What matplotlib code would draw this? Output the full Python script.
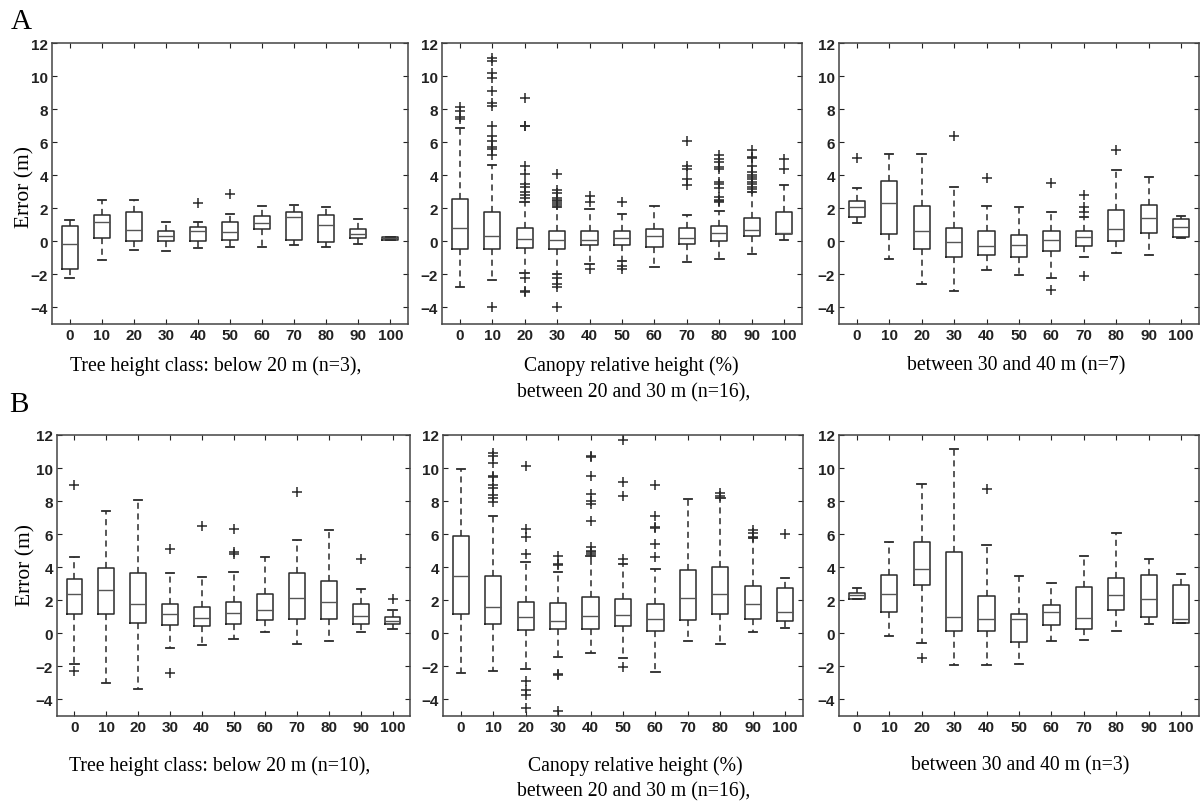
import matplotlib
matplotlib.use("Agg")
import matplotlib.pyplot as plt

# canopy relative height classes (%)
classes = [0, 10, 20, 30, 40, 50, 60, 70, 80, 90, 100]
yticks = [-4, -2, 0, 2, 4, 6, 8, 10, 12]

# box stats per class: [whisker low, q1, median, q3, whisker high]
# (A) tree height class below 20 m
a_low = [[-2.2, -1.7, -0.15, 0.9, 1.3], [-1.15, 0.2, 1.15, 1.6, 2.5], [-0.55, 0.0, 0.7, 1.75, 2.5],
         [-0.6, 0.0, 0.35, 0.65, 1.2], [-0.4, 0.05, 0.6, 0.85, 1.2], [-0.35, 0.1, 0.55, 1.15, 1.65],
         [-0.35, 0.75, 1.1, 1.55, 2.15], [-0.25, 0.1, 1.5, 1.75, 2.2], [-0.35, -0.05, 1.0, 1.6, 2.05],
         [-0.15, 0.2, 0.45, 0.75, 1.35], [0.08, 0.1, 0.18, 0.25, 0.28]]
a_low_out = [[], [], [], [], [2.3], [2.85], [], [], [], [], []]

# (A) between 20 and 30 m
a_mid = [[-2.75, -0.45, 0.8, 2.55, 6.85], [-2.35, -0.45, 0.3, 1.8, 4.6], [-1.9, -0.4, 0.15, 0.8, 2.4],
         [-1.95, -0.45, 0.1, 0.6, 2.1], [-1.4, -0.2, 0.1, 0.65, 1.95], [-1.2, -0.25, 0.2, 0.6, 1.65],
         [-1.55, -0.35, 0.3, 0.75, 2.15], [-1.25, -0.15, 0.2, 0.8, 1.6], [-1.05, 0.0, 0.5, 0.9, 1.85],
         [-0.75, 0.3, 0.7, 1.4, 3.0], [0.1, 0.45, 0.5, 1.77, 3.43]]
a_mid_out = [[7.4, 7.5, 7.9, 8.1],
             [11.1, 10.9, 10.2, 9.9, 9.1, 8.35, 8.2, 7.0, 6.4, 6.1, 5.7, 5.6, 5.2, -3.95],
             [8.7, 7.0, 6.95, 4.55, 4.1, 3.45, 3.3, 3.0, 2.8, 2.65, -2.2, -3.0, -3.05],
             [4.05, 3.1, 2.9, 2.6, 2.5, 2.45, 2.3, 2.2, -2.2, -2.55, -2.75, -3.95],
             [2.75, 2.4, -1.7], [2.4, -1.5, -1.65], [],
             [6.05, 4.55, 4.4, 3.75, 3.4],
             [5.2, 5.0, 4.8, 4.5, 4.35, 3.6, 3.45, 3.25, 2.7, 2.5, 2.45, 2.4],
             [5.5, 5.1, 5.05, 4.55, 4.2, 4.0, 3.9, 3.75, 3.6, 3.5, 3.3, 3.15],
             [4.97, 4.36]]

# (A) between 30 and 40 m
a_high = [[1.12, 1.45, 2.05, 2.45, 3.25], [-1.05, 0.45, 2.3, 3.65, 5.3], [-2.6, -0.45, 0.6, 2.15, 5.3],
          [-3.0, -0.95, -0.05, 0.8, 3.3], [-1.75, -0.85, -0.3, 0.65, 2.15], [-2.05, -0.95, -0.25, 0.4, 2.05],
          [-2.2, -0.6, 0.1, 0.65, 1.8], [-0.95, -0.3, 0.25, 0.6, 1.5], [-0.7, 0.0, 0.75, 1.9, 4.3],
          [-0.8, 0.5, 1.4, 2.2, 3.9], [0.2, 0.25, 0.85, 1.35, 1.55]]
a_high_out = [[5.05], [], [], [6.4], [3.85], [], [3.55, -2.95], [2.8, 2.05, 1.75, -2.1], [5.55], [], []]

# (B) tree height class below 20 m
b_low = [[-1.86, 1.17, 2.4, 3.3, 4.6], [-2.98, 1.17, 2.63, 3.95, 7.4], [-3.34, 0.65, 1.76, 3.65, 8.04],
         [-0.91, 0.5, 1.17, 1.76, 3.64], [-0.71, 0.45, 0.95, 1.62, 3.38], [-0.34, 0.55, 1.26, 1.88, 3.7],
         [0.1, 0.83, 1.42, 2.39, 4.62], [-0.67, 0.87, 2.13, 3.68, 5.67], [-0.45, 0.87, 1.9, 3.18, 6.28],
         [0.1, 0.55, 1.05, 1.76, 2.69], [0.26, 0.55, 0.77, 1.01, 1.42]]
b_low_out = [[9.0, -2.3], [], [], [5.1, -2.4], [6.5], [6.3, 4.95, 4.8], [], [8.55], [], [4.5], [2.06]]

# (B) between 20 and 30 m
b_mid = [[-2.38, 1.17, 3.45, 5.87, 9.92], [-2.26, 0.54, 1.61, 3.45, 7.1], [-2.18, 0.2, 1.0, 1.9, 4.33],
         [-1.45, 0.26, 0.75, 1.85, 3.69], [-1.17, 0.26, 1.05, 2.18, 4.7], [-1.47, 0.44, 1.1, 2.06, 4.17],
         [-2.36, 0.16, 0.85, 1.77, 3.87], [-0.46, 0.81, 2.16, 3.83, 8.1], [-0.67, 1.17, 2.36, 3.99, 8.17],
         [0.1, 0.87, 1.75, 2.86, 5.75], [0.34, 0.75, 1.31, 2.74, 3.33]]
b_mid_out = [[],
             [10.9, 10.7, 10.3, 9.5, 9.45, 9.0, 8.8, 8.4, 8.2, 7.95],
             [10.1, 6.3, 5.8, 4.8, -2.9, -3.45, -3.7, -4.5],
             [4.7, 4.2, 4.15, -2.45, -2.5, -4.7],
             [10.7, 10.65, 9.5, 8.45, 8.0, 7.85, 6.8, 5.2, 5.0, 4.9, 4.8],
             [11.7, 9.15, 8.3, 4.5, -2.05],
             [9.0, 7.1, 6.45, 6.4, 5.4, 4.6],
             [], [8.5, 8.3], [6.25, 6.05, 5.85], [6.0]]

# (B) between 30 and 40 m
b_high = [[2.05, 2.1, 2.3, 2.45, 2.75], [-0.18, 1.3, 2.36, 3.52, 5.5], [-0.6, 2.9, 3.92, 5.5, 9.06],
          [-1.94, 0.12, 0.98, 4.92, 11.16], [-1.9, 0.16, 0.84, 2.24, 5.36], [-1.84, -0.54, 0.86, 1.16, 3.5],
          [-0.48, 0.52, 1.32, 1.7, 3.02], [-0.4, 0.26, 0.94, 2.78, 4.66], [0.16, 1.42, 2.3, 3.32, 6.06],
          [0.56, 0.96, 2.1, 3.52, 4.5], [0.6, 0.62, 0.86, 2.92, 3.6]]
b_high_out = [[], [], [-1.5], [], [8.75], [], [], [], [], [], []]

row_a = [(a_low, a_low_out), (a_mid, a_mid_out), (a_high, a_high_out)]
row_b = [(b_low, b_low_out), (b_mid, b_mid_out), (b_high, b_high_out)]

labels_a = ["Tree height class: below 20 m (n=3),", "Canopy relative height (%)", "between 30 and 40 m (n=7)"]
labels_b = ["Tree height class: below 20 m (n=10),", "Canopy relative height (%)", "between 30 and 40 m (n=3)"]
sub_a = "between 20 and 30 m (n=16),"
sub_b = "between 20 and 30 m (n=16),"

W, H = 1202, 803
fig = plt.figure(figsize=(W / 100, H / 100), dpi=100)

def px_axes(x0, y0, x1, y1):
    return fig.add_axes([x0 / W, 1 - y1 / H, (x1 - x0) / W, (y1 - y0) / H])

ink = "#2a2a2a"

def draw_panel(ax, stats, outs):
    bx = []
    for s, o in zip(stats, outs):
        bx.append(dict(whislo=s[0], q1=s[1], med=s[2], q3=s[3], whishi=s[4], fliers=o))
    ax.bxp(bx, positions=classes, widths=5, capwidths=2.6, showfliers=True,
           boxprops=dict(color=ink, lw=1.1),
           medianprops=dict(color="#555555", lw=1.0),
           whiskerprops=dict(color=ink, lw=1.1, ls=(0, (4, 3))),
           capprops=dict(color=ink, lw=1.3),
           flierprops=dict(marker="+", markersize=6.5, markeredgecolor=ink, mew=1.1, ls="none"))
    ax.set_xlim(-5.5, 105.5)
    ax.set_ylim(-5, 12)
    ax.set_xticks(classes)
    ax.set_xticklabels([str(c) for c in classes])
    ax.set_yticks(yticks)
    ax.tick_params(direction="in", length=3.5, width=0.8, top=True, right=True,
                   labelsize=11, colors="#222222", pad=3)
    for lab in ax.get_xticklabels() + ax.get_yticklabels():
        lab.set_family(["Liberation Sans", "DejaVu Sans"])
        lab.set_fontweight("bold")
    for sp in ax.spines.values():
        sp.set_color("#444444")
        sp.set_linewidth(1.1)

cols_a = [(52, 408), (442, 802), (839, 1199)]
cols_b = [(57, 410), (443, 803), (839, 1199)]
label_x = [216, 631, 1016]

serif = ["Liberation Serif", "DejaVu Serif"]
fs = 14.2

for (x0, x1), (st, ou), lab, lx in zip(cols_a, row_a, labels_a, label_x):
    ax = px_axes(x0, 44, x1, 325)
    draw_panel(ax, st, ou)
    fig.text(lx / W, 1 - 366 / H, lab, ha="center", va="center", family=serif, fontsize=fs)
for (x0, x1), (st, ou), lab, lx in zip(cols_b, row_b, labels_b, label_x):
    ax = px_axes(x0, 436, x1, 717)
    draw_panel(ax, st, ou)
    fig.text((lx + 4) / W, 1 - 766 / H, lab, ha="center", va="center", family=serif, fontsize=fs)

fig.text(634 / W, 1 - 393 / H, sub_a, ha="center", va="center", family=serif, fontsize=fs)
fig.text(634 / W, 1 - 792 / H, sub_b, ha="center", va="center", family=serif, fontsize=fs)

fig.text(25 / W, 1 - 187 / H, "Error (m)", rotation=90, ha="center", va="center", family=serif, fontsize=15.5)
fig.text(26 / W, 1 - 565 / H, "Error (m)", rotation=90, ha="center", va="center", family=serif, fontsize=15.5)

fig.text(21 / W, 1 - 22 / H, "A", ha="center", va="center", family=serif, fontsize=21)
fig.text(19 / W, 1 - 405 / H, "B", ha="center", va="center", family=serif, fontsize=21)

fig.savefig("out.png", dpi=100, facecolor="white")
